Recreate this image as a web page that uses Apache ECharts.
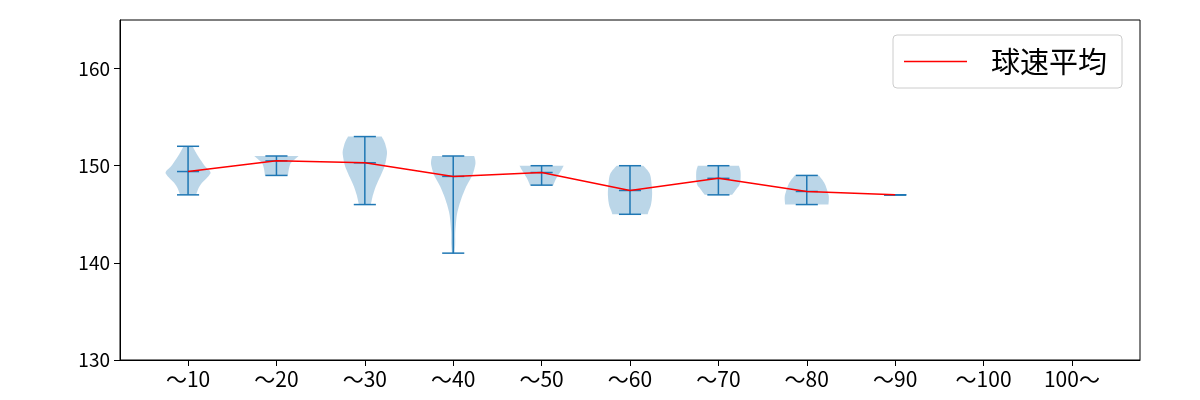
<!DOCTYPE html>
<html><head><meta charset="utf-8">
<script src="https://cdn.jsdelivr.net/npm/echarts@6/dist/echarts.min.js"></script>
<style>html,body{margin:0;padding:0;background:#fff}#c{width:1200px;height:400px}</style>
</head><body><div id="c"></div>
<script>
const categories = ['～10','～20','～30','～40','～50','～60','～70','～80','～90','～100','100～'];
const yTicks = [130, 140, 150, 160];
const mins  = [147, 149, 146, 141, 148, 145, 147, 146, 147];
const maxs  = [152, 151, 153, 151, 150, 150, 150, 149, 147];
const means = [149.4, 150.5, 150.3, 148.9, 149.3, 147.45, 148.7, 147.35, 147.0];
// violin outlines: [speed, relative density]
const shape10 = [[147,0.36],[148,0.55],[149,0.95],[149.4,1.0],[150,0.75],[151,0.45],[152,0.2]];
const shape20 = [[149,0.52],[149.5,0.55],[150,0.6],[150.3,0.66],[150.7,0.85],[151,1.0]];
const shape30 = [[146,0.27],[147,0.37],[148,0.52],[149,0.72],[150,0.9],[151,0.99],[151.5,1.0],[152,0.95],[152.5,0.88],[153,0.76]];
const shape40 = [[141,0.06],[142,0.09],[143,0.09],[144,0.12],[145,0.17],[146,0.28],[147,0.43],[148,0.62],[149,0.86],[150,0.99],[150.5,1.0],[151,0.95]];
const shape50 = [[148,0.53],[148.5,0.62],[149,0.74],[149.5,0.88],[150,1.0]];
const shape60 = [[145,0.8],[145.3,0.84],[146,0.95],[147,1.0],[148,0.98],[149,0.92],[149.5,0.8],[150,0.6]];
const shape70 = [[147,0.62],[147.7,0.85],[148,0.95],[148.5,1.0],[149.4,1.0],[150,0.93]];
const shape80 = [[146,0.98],[146.7,1.0],[147.2,0.96],[148.2,0.8],[149,0.55]];
const shape90 = [];
const shapes = [shape10, shape20, shape30, shape40, shape50, shape60, shape70, shape80, shape90];

const BLUE = '#1f77b4';
const HALF = 0.25, CAP = 0.125;

function spline(pts, steps) {
  const out = [];
  for (let i = 0; i < pts.length - 1; i++) {
    const p0 = pts[Math.max(i-1,0)], p1 = pts[i], p2 = pts[i+1], p3 = pts[Math.min(i+2, pts.length-1)];
    for (let s = 0; s < steps; s++) {
      const t = s/steps, t2 = t*t, t3 = t2*t;
      const f = (a,b,c,d) => 0.5*((2*b) + (-a+c)*t + (2*a-5*b+4*c-d)*t2 + (-a+3*b-3*c+d)*t3);
      out.push([f(p0[0],p1[0],p2[0],p3[0]), f(p0[1],p1[1],p2[1],p3[1])]);
    }
  }
  out.push(pts[pts.length-1]);
  return out;
}

const violinData = means.map((m, i) => [i + 1, m]);
const meanLine = means.map((m, i) => [i + 1, m]);

function renderViolin(params, api) {
  const i = params.dataIndex;
  const x = i + 1;
  const children = [];
  const sh = shapes[i];
  if (sh.length > 1) {
    const sp = spline(sh, 10);
    const right = sp.map(p => api.coord([x + HALF * p[1], p[0]]));
    const left = sp.slice().reverse().map(p => api.coord([x - HALF * p[1], p[0]]));
    children.push({type: 'polygon', shape: {points: right.concat(left)},
      style: {fill: 'rgba(31,119,180,0.3)', stroke: null}});
  }
  const ln = (a, b) => ({type: 'line', shape: {x1: a[0], y1: a[1], x2: b[0], y2: b[1]},
    style: {stroke: BLUE, lineWidth: 1.5}});
  children.push(ln(api.coord([x, mins[i]]), api.coord([x, maxs[i]])));
  [mins[i], maxs[i], means[i]].forEach(v => {
    children.push(ln(api.coord([x - CAP, v]), api.coord([x + CAP, v])));
  });
  return {type: 'group', children};
}

const chart = echarts.init(document.getElementById('c'), null, {renderer: 'canvas'});
const tickPos = categories.map((c, i) => i + 1);
chart.setOption({
  animation: false,
  textStyle: {fontFamily: '"Noto Sans CJK JP", "Noto Sans", sans-serif'},
  grid: {left: 120, right: 60, top: 20, bottom: 40, show: true, borderColor: '#000', borderWidth: 1, backgroundColor: 'transparent'},
  legend: {
    data: ['球速平均'], left: 893, top: 35,
    icon: 'rect', itemWidth: 63, itemHeight: 1.5, itemGap: 10,
    padding: [12, 15, 12, 11],
    backgroundColor: 'rgba(255,255,255,0.8)', borderColor: '#cccccc', borderWidth: 1, borderRadius: 4,
    textStyle: {fontSize: 29, color: '#000', padding: [0, 0, 0, 19], fontFamily: '"Noto Sans CJK JP", sans-serif'}
  },
  xAxis: {
    type: 'value', min: 0.23, max: 11.77,
    splitLine: {show: false},
    axisLine: {show: true, lineStyle: {color: '#000', width: 1}},
    axisTick: {show: true, length: 6, lineStyle: {color: '#000'}, customValues: tickPos},
    axisLabel: {show: true, fontSize: 21, color: '#000', margin: 9, customValues: tickPos,
      formatter: v => categories[Math.round(v) - 1] || ''}
  },
  yAxis: {
    type: 'value', min: 130, max: 165, interval: 10,
    splitLine: {show: false},
    axisLine: {show: true, lineStyle: {color: '#000', width: 1}},
    axisTick: {show: true, length: 6, lineStyle: {color: '#000'}, customValues: yTicks},
    axisLabel: {fontSize: 19, color: '#000', margin: 10, customValues: yTicks,
      formatter: v => String(v)}
  },
  series: [
    {type: 'custom', name: 'violin', renderItem: renderViolin, data: violinData, z: 2, silent: true},
    {type: 'line', name: '球速平均', data: meanLine, symbol: 'none', z: 3,
      lineStyle: {color: '#ff0000', width: 1.5}, itemStyle: {color: '#ff0000'}}
  ]
});
</script></body></html>
